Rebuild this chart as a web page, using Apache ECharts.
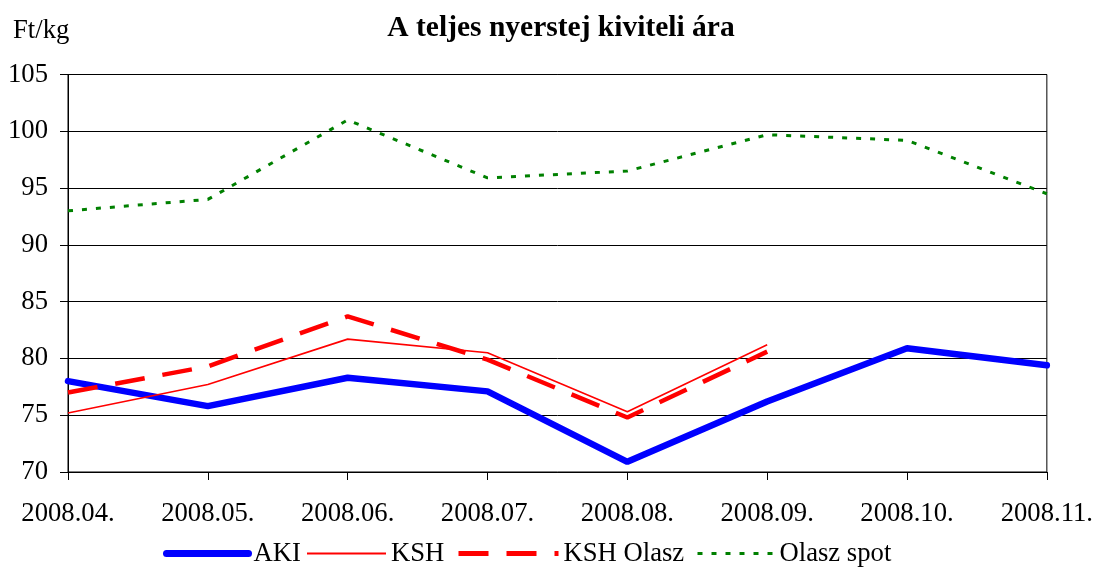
<!DOCTYPE html>
<html><head><meta charset="utf-8">
<script src="https://cdn.jsdelivr.net/npm/echarts@6/dist/echarts.min.js"></script>
<style>html,body{margin:0;padding:0;background:#fff}#c{width:1096px;height:568px}</style>
</head><body><div id="c"></div>
<script>
const categories = ['2008.04.','2008.05.','2008.06.','2008.07.','2008.08.','2008.09.','2008.10.','2008.11.'];
const aki = [78.0, 75.8, 78.3, 77.1, 70.9, 76.2, 80.9, 79.4];
const ksh = [75.2, 77.7, 81.7, 80.5, 75.3, 81.2, null, null];
const kshOlasz = [77.0, 79.3, 83.7, 79.9, 74.8, 80.6, null, null];
const olaszSpot = [93.0, 94.0, 101.0, 95.9, 96.5, 99.7, 99.2, 94.5];
const seriesNames = ['AKI', 'KSH', 'KSH Olasz', 'Olasz spot'];
const font = 'Liberation Serif, Times New Roman, serif';
const FS = 26.67;
const legendText = {fontFamily: font, fontSize: FS, color: '#000'};
function mkLegend(name, left, w, lw) {
  return {
    data: [name], left: left, top: 540, padding: 0, itemWidth: w, itemHeight: 14,
    textStyle: legendText, itemStyle: {opacity: 0}, lineStyle: {width: lw}
  };
}
const chart = echarts.init(document.getElementById('c'));
chart.setOption({
  animation: false,
  textStyle: {fontFamily: font},
  title: [
    {text: 'A teljes nyerstej kiviteli ára', left: 556, textAlign: 'center', top: 8,
     textStyle: {fontFamily: font, fontSize: 29.5, fontWeight: 'bold', color: '#000'}},
    {text: 'Ft/kg', left: 8, top: 12, textStyle: {fontFamily: font, fontSize: FS, fontWeight: 'normal', color: '#000'}}
  ],
  grid: {left: 68, right: 49, top: 74.5, bottom: 96, show: true, borderColor: '#000', borderWidth: 1, containLabel: false},
  legend: [
    mkLegend(seriesNames[0], 163, 82, 7),
    mkLegend(seriesNames[1], 306, 79, 2),
    mkLegend(seriesNames[2], 456, 100, 5),
    mkLegend(seriesNames[3], 696, 77, 3)
  ],
  xAxis: {
    type: 'category', data: categories, boundaryGap: false,
    axisLine: {lineStyle: {color: '#000', width: 1}},
    axisTick: {show: true, length: 8, inside: false, lineStyle: {color: '#000'}},
    axisLabel: {fontFamily: font, fontSize: FS, color: '#000', margin: 28, showMinLabel: true, showMaxLabel: true, interval: 0, hideOverlap: false},
    splitLine: {show: false}
  },
  yAxis: {
    type: 'value', min: 70, max: 105, interval: 5,
    axisLine: {show: true, lineStyle: {color: '#000', width: 1}},
    axisTick: {show: true, length: 8, lineStyle: {color: '#000'}},
    axisLabel: {fontFamily: font, fontSize: FS, color: '#000', margin: 20},
    splitLine: {show: true, lineStyle: {color: '#000', width: 1}}
  },
  series: [
    {name: seriesNames[0], type: 'line', data: aki, symbol: 'none', lineStyle: {color: '#0000ff', width: 6.5, cap: 'round'}, itemStyle: {color: '#0000ff'}},
    {name: seriesNames[1], type: 'line', data: ksh, symbol: 'none', lineStyle: {color: '#ff0000', width: 1.6}, itemStyle: {color: '#ff0000'}},
    {name: seriesNames[2], type: 'line', data: kshOlasz, symbol: 'none', lineStyle: {color: '#ff0000', width: 4.5, type: [30, 18]}, itemStyle: {color: '#ff0000'}},
    {name: seriesNames[3], type: 'line', data: olaszSpot, symbol: 'none', lineStyle: {color: '#008000', width: 3, type: [5, 9]}, itemStyle: {color: '#008000'}}
  ]
});
</script></body></html>
